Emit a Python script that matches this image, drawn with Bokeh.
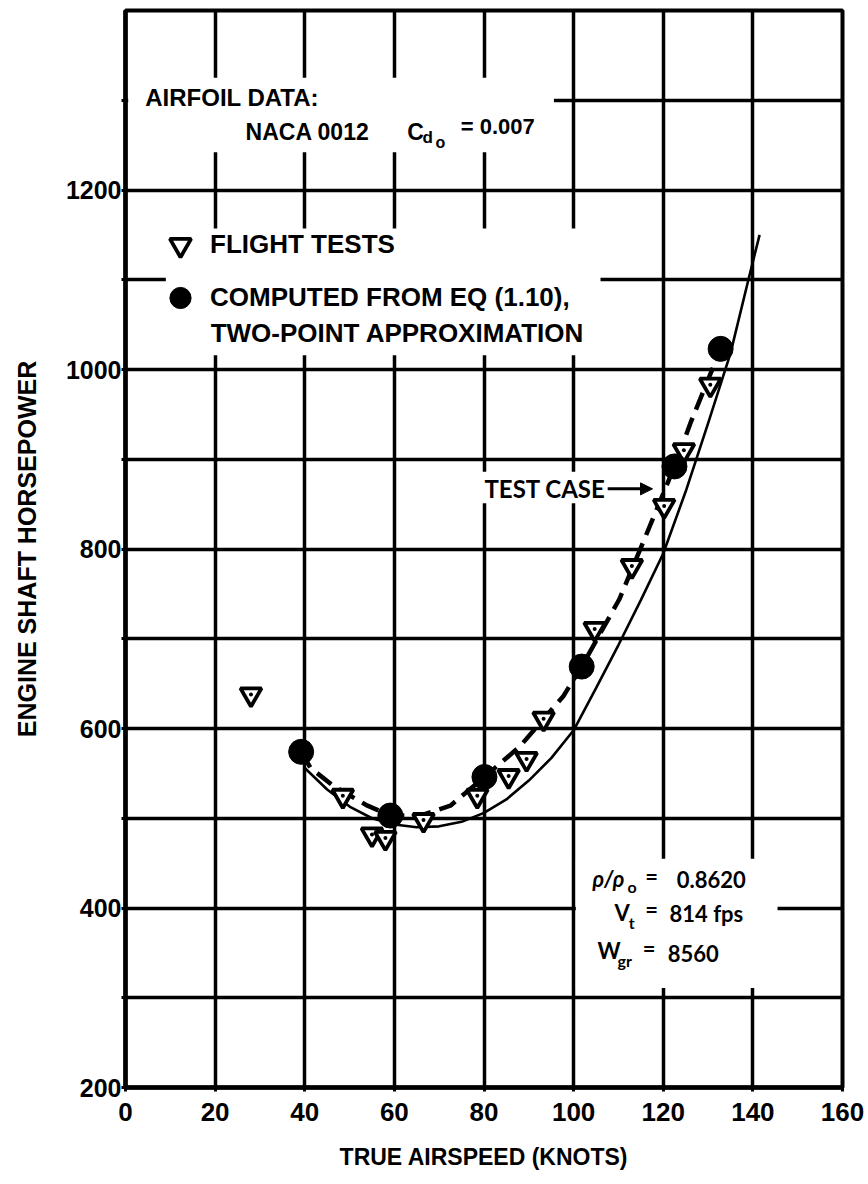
from bokeh.plotting import figure
from bokeh.models import (Range1d, FixedTicker, Label, BoxAnnotation, Arrow, NormalHead,
                          Legend, LegendItem)
from bokeh.embed import file_html
from bokeh.resources import INLINE

# ---------------- data ----------------
flight_speed = [28, 48.5, 55, 58, 66.5, 78.5, 85.5, 89.5, 93.3, 104.7, 113, 120.2, 124.6, 130.5]
flight_hp = [638, 525, 482, 478, 498, 525, 547, 566, 611, 711, 781, 848, 910, 983]

computed_speed = [39.2, 59.1, 80.1, 101.8, 122.5, 132.8]
computed_hp = [574, 503, 546, 669, 892, 1023]

dashed_speed = [39.2, 41.3, 46.4, 54, 59.1, 65.8, 72.5, 80.1, 88, 97.7, 101.8, 110.2, 115.8, 122.5, 126.2, 132.8]
dashed_hp = [574, 556, 536, 514, 503, 503, 514, 546, 580, 636, 669, 744, 811, 892, 942, 1023]

solid_speed = [40, 45, 50, 55, 60, 65, 70, 75, 80, 85, 90, 95, 100, 105, 110, 115, 120, 125, 130, 135, 139, 141.5]
solid_hp = [556, 532, 513, 500, 493, 490, 491, 496, 506, 521, 542, 567, 598, 645, 693, 743, 795, 864, 940, 1018, 1100, 1150]

x_ticks = [0, 20, 40, 60, 80, 100, 120, 140, 160]
y_ticks = [200, 400, 600, 800, 1000, 1200]
y_minor = [300, 500, 700, 900, 1100, 1300]
y_grid = [200, 300, 400, 500, 600, 700, 800, 900, 1000, 1100, 1200, 1300, 1400]

x_title = "TRUE AIRSPEED (KNOTS)"
y_title = "ENGINE SHAFT HORSEPOWER"

# ---------------- figure ----------------
FONT = "Liberation Sans"
p = figure(width=868, height=1184, output_backend="svg", toolbar_location=None,
           x_range=Range1d(0, 160), y_range=Range1d(200, 1400),
           min_border_left=125, min_border_right=26, min_border_top=10, min_border_bottom=97)
p.background_fill_color = "white"
p.border_fill_color = "white"
p.outline_line_color = "black"
p.outline_line_width = 4

p.xaxis.ticker = FixedTicker(ticks=x_ticks)
p.yaxis.ticker = FixedTicker(ticks=y_ticks, minor_ticks=y_minor)
p.xgrid.ticker = FixedTicker(ticks=x_ticks)
p.ygrid.ticker = FixedTicker(ticks=y_grid)
for g in (p.xgrid, p.ygrid):
    g.grid_line_color = "black"
    g.grid_line_width = 3.5
    g.grid_line_alpha = 1

for ax in (p.xaxis, p.yaxis):
    ax.axis_line_width = 4.5
    ax.axis_line_color = "black"
    ax.major_tick_line_width = 3
    ax.minor_tick_line_width = 3
    ax.major_tick_in = 0
    ax.major_tick_out = 4
    ax.minor_tick_in = 0
    ax.minor_tick_out = 4
    ax.major_label_text_font = FONT
    ax.major_label_text_font_style = "bold"
    ax.major_label_text_color = "black"
    ax.axis_label_text_font = FONT
    ax.axis_label_text_font_style = "bold"
    ax.axis_label_text_color = "black"

p.xaxis.minor_tick_out = 0
p.xaxis.major_label_text_font_size = "26px"
p.xaxis.major_label_standoff = 11
p.xaxis.axis_label = x_title
p.xaxis.axis_label_text_font_size = "23px"
p.xaxis.axis_label_standoff = 20

p.yaxis.major_label_text_font_size = "25px"
p.yaxis.major_label_standoff = 0
p.yaxis.axis_label = y_title
p.yaxis.axis_label_text_font_size = "25px"
p.yaxis.axis_label_standoff = 22

# ---------------- knock-out boxes behind the texts ----------------
boxes = [
    dict(left=0.6, right=95.6, top=1325, bottom=1242),    # airfoil data
    dict(left=9, right=106, top=1157, bottom=1016),       # legend
    dict(left=78, right=117.5, top=886, bottom=851),      # test case
    dict(left=100.5, right=145.5, top=455, bottom=311),   # conditions
]
for b in boxes:
    p.add_layout(BoxAnnotation(fill_color="white", fill_alpha=1, line_alpha=0,
                               level="glyph", **b))

# ---------------- data glyphs ----------------
p.line(solid_speed, solid_hp, line_color="black", line_width=2.6)
p.line(dashed_speed, dashed_hp, line_color="black", line_width=4.5, line_dash="18 9")

tri = p.scatter(flight_speed, flight_hp, marker="inverted_triangle", size=21,
                fill_color="white", line_color="black", line_width=3.8)
p.scatter(flight_speed, flight_hp, marker="circle", size=4, fill_color="black", line_color=None)
circ = p.scatter(computed_speed, computed_hp, marker="circle", size=25,
                 fill_color="black", line_color="black")

# ---------------- legend ----------------
legend = Legend(items=[LegendItem(label="FLIGHT TESTS", renderers=[tri]),
                       LegendItem(label="COMPUTED FROM EQ (1.10),", renderers=[circ])],
                location=(27, 763), orientation="vertical",
                glyph_width=56, glyph_height=53, label_height=53, spacing=0,
                padding=0, margin=0, label_standoff=2,
                border_line_alpha=0, background_fill_alpha=0,
                label_text_font=FONT, label_text_font_size="26px",
                label_text_font_style="bold", label_text_color="black")
p.add_layout(legend)


def lab(x, y, text, size, style="bold", font=FONT):
    p.add_layout(Label(x=x, y=y, text=text, text_font=font, text_font_size=size,
                       text_font_style=style, text_color="black",
                       text_align="left", text_baseline="middle"))


lab(19.0, 1041, "TWO-POINT APPROXIMATION", "26px")

# airfoil block
lab(4.4, 1303, "AIRFOIL DATA:", "24px")
lab(26.8, 1265, "NACA 0012", "23px")
lab(62.9, 1265, "C", "23px")
lab(66.3, 1259, "d", "17px")
lab(69.2, 1253, "o", "16px")
lab(74.8, 1271, "= 0.007", "22px")

# test case
ANN = "Lato"
lab(80.1, 867, "TEST CASE", "24px", "bold", ANN)
p.add_layout(Arrow(end=NormalHead(size=12, fill_color="black", line_color="black"),
                   x_start=107.6, y_start=867, x_end=117.6, y_end=867,
                   line_width=3, line_color="black"))

# flight conditions
lab(104.2, 433, "ρ/ρ", "22px", "bold italic", ANN)
lab(112.0, 424, "o", "16px", "bold", ANN)
lab(116.0, 435, "=", "22px", "bold", ANN)
lab(123.0, 432, "0.8620", "22px", "bold", ANN)
lab(109.1, 395, "V", "22px", "bold", ANN)
lab(112.3, 384, "t", "16px", "bold", ANN)
lab(116.0, 398, "=", "22px", "bold", ANN)
lab(121.4, 394, "814 fps", "22px", "bold", ANN)
lab(105.3, 353, "W", "22px", "bold", ANN)
lab(109.8, 342, "gr", "16px", "bold", ANN)
lab(115.4, 355, "=", "22px", "bold", ANN)
lab(121.0, 349, "8560", "22px", "bold", ANN)

open("out.html", "w").write(file_html(p, INLINE))
